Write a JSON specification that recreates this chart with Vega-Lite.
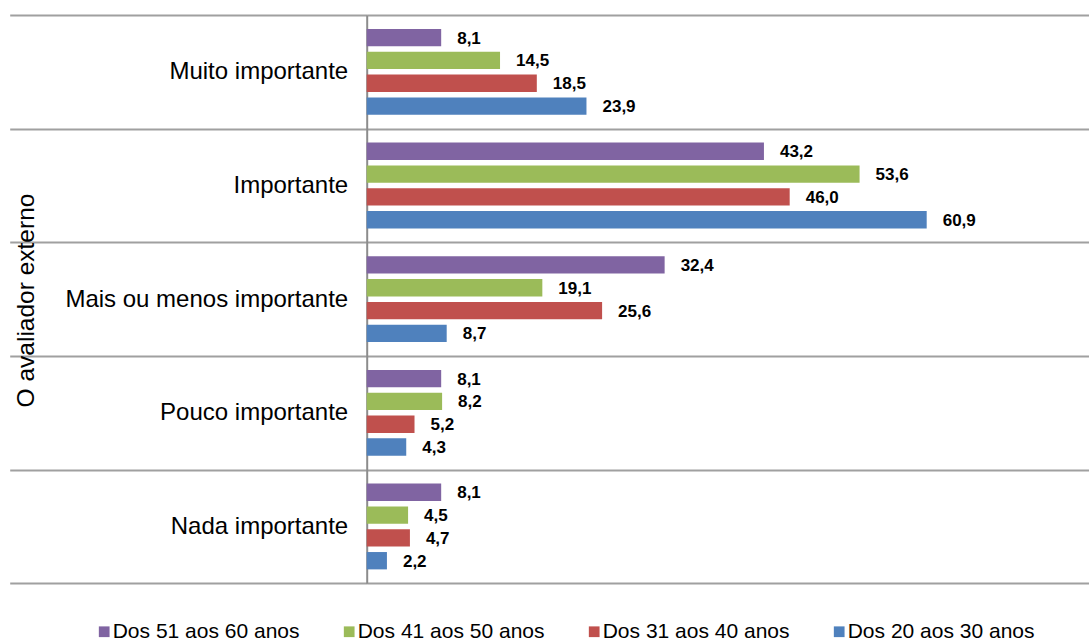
{
  "$schema": "https://vega.github.io/schema/vega-lite/v6.json",
  "width": 722.3,
  "height": 568.3,
  "autosize": {"type": "none"},
  "padding": {"left": 366.7, "top": 15, "right": 0, "bottom": 57.7},
  "config": {
    "view": {"stroke": null},
    "font": "Liberation Sans",
    "locale": {"number": {"decimal": ",", "thousands": ".", "grouping": [3], "currency": ["", ""]}}
  },
  "data": {
    "values": [
      {"categoria": "Muito importante", "faixa": "Dos 51 aos 60 anos", "valor": 8.1},
      {"categoria": "Muito importante", "faixa": "Dos 41 aos 50 anos", "valor": 14.5},
      {"categoria": "Muito importante", "faixa": "Dos 31 aos 40 anos", "valor": 18.5},
      {"categoria": "Muito importante", "faixa": "Dos 20 aos 30 anos", "valor": 23.9},
      {"categoria": "Importante", "faixa": "Dos 51 aos 60 anos", "valor": 43.2},
      {"categoria": "Importante", "faixa": "Dos 41 aos 50 anos", "valor": 53.6},
      {"categoria": "Importante", "faixa": "Dos 31 aos 40 anos", "valor": 46.0},
      {"categoria": "Importante", "faixa": "Dos 20 aos 30 anos", "valor": 60.9},
      {"categoria": "Mais ou menos importante", "faixa": "Dos 51 aos 60 anos", "valor": 32.4},
      {"categoria": "Mais ou menos importante", "faixa": "Dos 41 aos 50 anos", "valor": 19.1},
      {"categoria": "Mais ou menos importante", "faixa": "Dos 31 aos 40 anos", "valor": 25.6},
      {"categoria": "Mais ou menos importante", "faixa": "Dos 20 aos 30 anos", "valor": 8.7},
      {"categoria": "Pouco importante", "faixa": "Dos 51 aos 60 anos", "valor": 8.1},
      {"categoria": "Pouco importante", "faixa": "Dos 41 aos 50 anos", "valor": 8.2},
      {"categoria": "Pouco importante", "faixa": "Dos 31 aos 40 anos", "valor": 5.2},
      {"categoria": "Pouco importante", "faixa": "Dos 20 aos 30 anos", "valor": 4.3},
      {"categoria": "Nada importante", "faixa": "Dos 51 aos 60 anos", "valor": 8.1},
      {"categoria": "Nada importante", "faixa": "Dos 41 aos 50 anos", "valor": 4.5},
      {"categoria": "Nada importante", "faixa": "Dos 31 aos 40 anos", "valor": 4.7},
      {"categoria": "Nada importante", "faixa": "Dos 20 aos 30 anos", "valor": 2.2}
    ]
  },
  "encoding": {
    "y": {
      "field": "categoria",
      "type": "nominal",
      "sort": ["Muito importante", "Importante", "Mais ou menos importante", "Pouco importante", "Nada importante"],
      "scale": {"paddingInner": 0, "paddingOuter": 0},
      "title": "O avaliador externo",
      "axis": {
        "tickBand": "extent",
        "ticks": true,
        "tickSize": 357,
        "tickColor": "#A0A0A0",
        "tickWidth": 2,
        "grid": true,
        "gridColor": "#A0A0A0",
        "gridWidth": 2,
        "domain": true,
        "domainColor": "#8C8C8C",
        "domainWidth": 2,
        "labelFontSize": 24,
        "labelColor": "#000000",
        "labelPadding": -338,
        "labelLimit": 0,
        "titleFontSize": 24.5,
        "titleFontWeight": "normal",
        "titleColor": "#000000",
        "titleX": -340,
        "titleY": 285,
        "titleAngle": -90,
        "titleAlign": "center",
        "titleBaseline": "middle"
      }
    },
    "yOffset": {
      "field": "faixa",
      "type": "nominal",
      "sort": ["Dos 51 aos 60 anos", "Dos 41 aos 50 anos", "Dos 31 aos 40 anos", "Dos 20 aos 30 anos"],
      "scale": {"paddingInner": 0.24, "paddingOuter": 0.61}
    },
    "x": {
      "field": "valor",
      "type": "quantitative",
      "scale": {"domain": [0, 78.55], "nice": false},
      "axis": null
    }
  },
  "layer": [
    {
      "mark": {"type": "bar"},
      "encoding": {
        "color": {
          "field": "faixa",
          "type": "nominal",
          "sort": ["Dos 51 aos 60 anos", "Dos 41 aos 50 anos", "Dos 31 aos 40 anos", "Dos 20 aos 30 anos"],
          "scale": {
            "domain": ["Dos 51 aos 60 anos", "Dos 41 aos 50 anos", "Dos 31 aos 40 anos", "Dos 20 aos 30 anos"],
            "range": ["#8064A2", "#9BBB59", "#C0504D", "#4F81BD"]
          },
          "legend": {
            "orient": "none",
            "direction": "horizontal",
            "legendX": -273,
            "legendY": 606,
            "title": null,
            "symbolType": "square",
            "symbolSize": 115,
            "symbolStrokeWidth": 0,
            "labelFontSize": 21,
            "labelColor": "#000000",
            "labelOffset": -2,
            "columnPadding": 39,
            "labelLimit": 0
          }
        }
      }
    },
    {
      "mark": {"type": "text", "align": "left", "baseline": "middle", "dx": 16, "dy": 1, "fontWeight": "bold", "fontSize": 17, "color": "#000000"},
      "encoding": {
        "text": {"field": "valor", "type": "quantitative", "format": ".1f"}
      }
    }
  ]
}
